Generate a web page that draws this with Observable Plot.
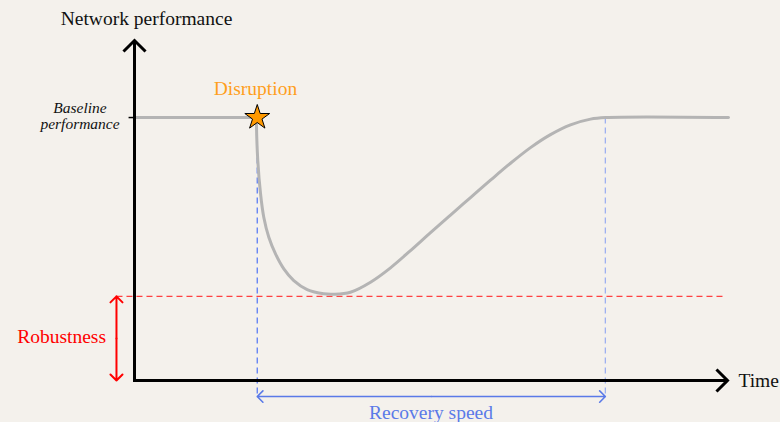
<!DOCTYPE html>
<html>
<head>
<meta charset="utf-8">
<script src="https://cdn.jsdelivr.net/npm/d3@7"></script>
<script src="https://cdn.jsdelivr.net/npm/@observablehq/plot@0.6"></script>
<style>
  html, body { margin: 0; padding: 0; background: #f4f1ec; overflow: hidden; }
  #chart svg { display: block; font-family: 'Liberation Serif', 'DejaVu Serif', serif; }
  #chart svg text { font-family: 'Liberation Serif', 'DejaVu Serif', serif; }
</style>
</head>
<body>
<div id="chart"></div>
<script>
// Conceptual time (0–100) and performance (baseline = 100)
const preT = [0, 20.57];
const preV = [100, 100];
const curveT = [20.57, 20.57, 20.79, 21.25, 21.80, 22.65, 23.78, 25.18, 26.86, 29.12, 31.92, 33.61, 36.42, 39.80, 43.17, 46.54, 49.92, 53.29, 56.66, 60.03, 63.41, 66.78, 70.15, 73.52, 76.90, 79.43, 100.17];
const curveV = [100, 96.96, 83.65, 71.10, 62.09, 54.49, 48.17, 42.47, 38.02, 34.60, 32.97, 32.81, 33.57, 37.38, 42.85, 49.39, 56.24, 62.93, 69.54, 76.16, 82.62, 88.56, 93.50, 97.22, 99.39, 100, 100];

const baseline = 100;
const disruptionT = 20.7;
const recoveredT = 79.4;
const robustnessLevel = 32;
const robustnessArrowT = -3.04;
const recoveryArrowV = -6.1;
const dashedBottomV = -6.6;
const redDashEndT = 99.2;
const axisTopV = 129.3;
const axisEndT = 100;

const labels = [
  {text: "Network performance", t: 2.02, v: 135.36},
  {text: "Disruption", t: 20.4, v: 108.6},
  {text: "Baseline\nperformance", t: -9.19, v: 95.7},
  {text: "Robustness", t: -12.3, v: 14.45},
  {text: "Time", t: 101.85, v: -2.66},
  {text: "Recovery speed", t: 50.0, v: -14.8}
];

const pre = preT.map((t, i) => ({t, v: preV[i]}));
const curve = curveT.map((t, i) => ({t, v: curveV[i]}));
const L = Object.fromEntries(labels.map(d => [d.text, d]));
const serif = "'Liberation Serif', 'DejaVu Serif', serif";

const chart = Plot.plot({
  width: 780,
  height: 422,
  marginLeft: 134,
  marginRight: 53,
  marginTop: 40,
  marginBottom: 42,
  x: {domain: [0, axisEndT], axis: null},
  y: {domain: [0, axisTopV], axis: null},
  style: {"background": "transparent", "font-family": serif},
  marks: [
    // blue dashed verticals
    Plot.link([{t: disruptionT, c: "#5b7cf5"}, {t: recoveredT, c: "#9eb0f0"}], {
      x1: "t", x2: "t", y1: () => baseline, y2: () => dashedBottomV,
      stroke: "c", strokeWidth: 1.3, strokeDasharray: "6,4"
    }),
    // red dashed robustness line
    Plot.link([{t1: robustnessArrowT, t2: redDashEndT, v: robustnessLevel}], {
      x1: "t1", x2: "t2", y1: "v", y2: "v",
      stroke: "#ff4040", strokeWidth: 1.3, strokeDasharray: "6,4"
    }),
    // performance curve
    Plot.line(pre, {x: "t", y: "v", stroke: "#b4b4b4", strokeWidth: 3}),
    Plot.line(curve, {x: "t", y: "v", stroke: "#b4b4b4", strokeWidth: 3, curve: "catmull-rom"}),
    // baseline tick
    Plot.link([{t1: -1, t2: 0, v: baseline}], {x1: "t1", x2: "t2", y1: "v", y2: "v", stroke: "black", strokeWidth: 1.5}),
    // axes
    Plot.arrow([
      {x1: 0, y1: -0.55, x2: 0, y2: axisTopV},
      {x1: 0, y1: 0, x2: axisEndT, y2: 0}
    ], {
      x1: "x1", y1: "y1", x2: "x2", y2: "y2",
      stroke: "black", strokeWidth: 3, headLength: 7.8, headAngle: 90,
      strokeLinecap: "butt", strokeLinejoin: "miter", strokeMiterlimit: 10
    }),
    // robustness double arrow
    Plot.arrow([
      {y1: robustnessLevel / 2, y2: robustnessLevel},
      {y1: robustnessLevel / 2, y2: 0}
    ], {
      x1: () => robustnessArrowT, x2: () => robustnessArrowT, y1: "y1", y2: "y2",
      stroke: "red", strokeWidth: 2, headLength: 6.4, headAngle: 90
    }),
    // recovery speed double arrow
    Plot.arrow([
      {x1: (disruptionT + recoveredT) / 2, x2: recoveredT},
      {x1: (disruptionT + recoveredT) / 2, x2: disruptionT}
    ], {
      x1: "x1", x2: "x2", y1: () => recoveryArrowV, y2: () => recoveryArrowV,
      stroke: "#5a7ae8", strokeWidth: 1.6, headLength: 7.5, headAngle: 90
    }),
    // disruption star
    Plot.dot([{t: disruptionT, v: baseline}], {
      x: "t", y: "v", symbol: "star", r: 7.8, fill: "#ff9900", stroke: "black", strokeWidth: 1
    }),
    // labels
    Plot.text([L["Network performance"]], {x: "t", y: "v", text: "text", fontFamily: serif, fontSize: 19.5, fill: "#111", lineAnchor: "bottom", textAnchor: "middle"}),
    Plot.text([L["Disruption"]], {x: "t", y: "v", text: "text", fontFamily: serif, fontSize: 19.5, fill: "#ff9f1c", lineAnchor: "bottom", textAnchor: "middle"}),
    Plot.text([L["Baseline\nperformance"]], {x: "t", y: "v", text: "text", fontFamily: serif, fontSize: 15.5, fontStyle: "italic", fill: "#111", lineAnchor: "bottom", textAnchor: "middle", lineHeight: 1.0}),
    Plot.text([L["Robustness"]], {x: "t", y: "v", text: "text", fontFamily: serif, fontSize: 19.5, fill: "red", lineAnchor: "bottom", textAnchor: "middle"}),
    Plot.text([L["Time"]], {x: "t", y: "v", text: "text", fontFamily: serif, fontSize: 19.5, fill: "#111", lineAnchor: "bottom", textAnchor: "start"}),
    Plot.text([L["Recovery speed"]], {x: "t", y: "v", text: "text", fontFamily: serif, fontSize: 19.5, fill: "#5a7ae8", lineAnchor: "bottom", textAnchor: "middle"})
  ]
});
document.getElementById("chart").append(chart);
</script>
</body>
</html>
